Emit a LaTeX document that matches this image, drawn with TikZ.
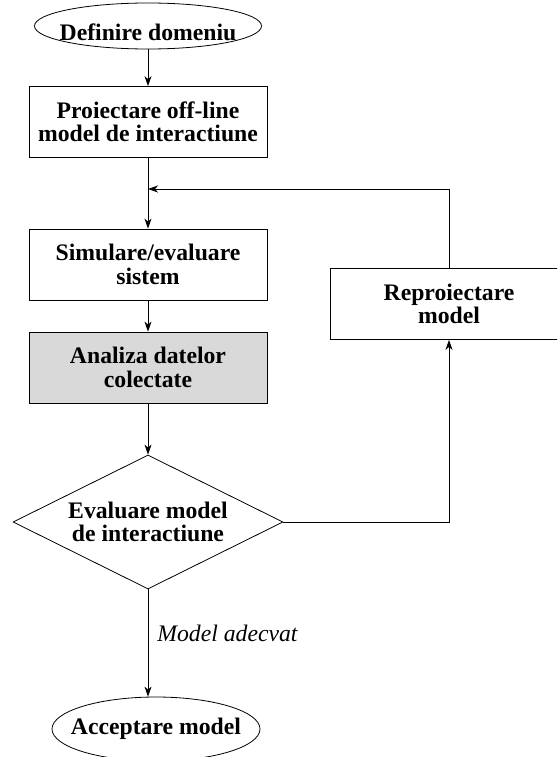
\documentclass[tikz,border=0pt]{standalone}
\usepackage{fontspec}
\setmainfont{Liberation Serif}
\usetikzlibrary{shapes.geometric,arrows.meta}

\begin{document}
\begin{tikzpicture}[x=1pt,y=-1pt,
  txt/.style={font=\fontsize{23.7}{23.5}\selectfont\bfseries, align=center},
  stepbox/.style={txt, draw, line width=0.8pt, rectangle,
    minimum width=238pt, minimum height=71pt, inner sep=0pt},
  term/.style={draw, line width=0.8pt, ellipse, inner sep=0pt},
  decision/.style={txt, draw, line width=0.8pt, diamond, aspect=2,
    minimum width=270pt, minimum height=134pt, inner sep=0pt},
  arr/.style={-{Stealth[length=10pt,width=7pt,inset=3pt]}, line width=0.8pt},
  note/.style={font=\fontsize{23.7}{24}\selectfont\itshape, inner sep=0pt}
]
\clip (0,0) rectangle (557,757);

% terminal and process nodes
\node[term, minimum width=227pt, minimum height=46pt,
  label={[txt, yshift=-6pt]center:Definire domeniu}] (def) at (148,26) {};
\node[stepbox] (proj) at (148,122) {Proiectare off-line\\model de interactiune};
\node[stepbox] (sim) at (148,264.5) {Simulare/evaluare\\sistem};
\node[stepbox, fill=gray!30] (anl) at (148,367.5) {Analiza datelor\\colectate};
\node[decision] (dec) at (148,522) {Evaluare model\\de interactiune};
\node[stepbox] (rep) at (449,304) {Reproiectare\\model};
\node[term, minimum width=208pt, minimum height=64pt,
  label={[txt]center:Acceptare model}] (acc) at (156,729) {};
\coordinate (join) at (148,189);

% connectors
\draw[arr] (def) -- (proj);
\draw[arr] (proj) -- (sim);
\draw[arr] (sim) -- (anl);
\draw[arr] (anl) -- (dec);
\draw[arr] (dec) -| (rep);
\draw[arr] (rep) |- (join);
\draw[arr] (dec) -- node[note, pos=0.41, anchor=west, xshift=9pt] {Model adecvat}
  (dec.south |- acc.north);
\end{tikzpicture}
\end{document}
